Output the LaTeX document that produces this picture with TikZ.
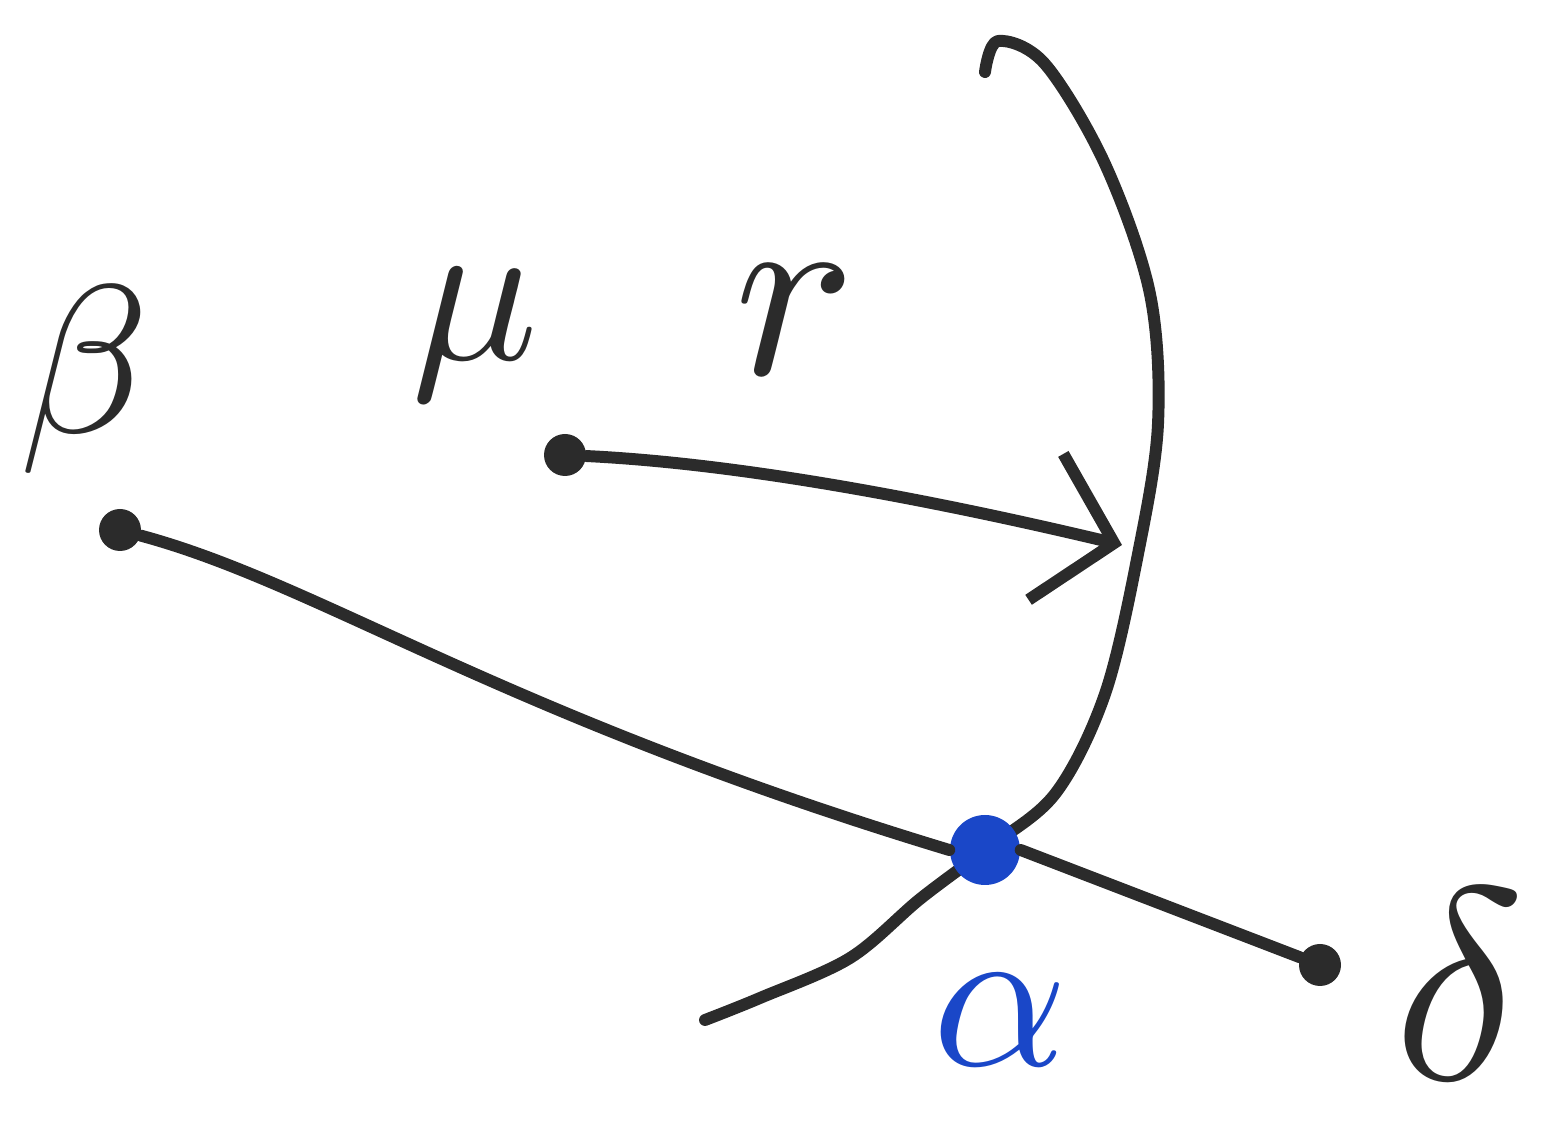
\documentclass[tikz,border=0pt]{standalone}
\usepackage{amsmath}
\usepackage{xcolor}
\definecolor{penInk}{HTML}{2B2B2B}
\definecolor{penBlue}{HTML}{1A47C8}
\usepackage{tikz}
\usetikzlibrary{arrows.meta}

\tikzset{
  pen/.style={penInk, line width=3.4pt, line cap=round, line join=round},
  dot/.style={circle, fill=penInk, inner sep=0pt, minimum size=0.42cm},
  lbl/.style={penInk, scale=6, inner sep=0pt}
}

\begin{document}
\begin{tikzpicture}[>=stealth]
  \useasboundingbox (0,0) rectangle (15.46,11.34);
  % the points
  \node[dot] (beta) at (1.20,6.04) {};
  \node[dot] (mu) at (5.65,6.79) {};
  \node[dot] (delta) at (13.20,1.69) {};
  \coordinate (rtip) at (11.22,5.89);
  % the circle round mu
  \draw[pen] plot[smooth, tension=0.55] coordinates {
    (9.85,10.62) (9.98,10.93) (10.45,10.70) (11.05,9.70) (11.50,8.40)
    (11.58,7.10) (11.38,5.80) (11.05,4.40) (10.55,3.40) (9.85,2.84)
    (9.20,2.35) (8.50,1.76) (7.60,1.36) (7.05,1.14)};
  % the line through beta and alpha
  \node[circle, fill=penBlue, inner sep=0pt, minimum size=0.7cm] (alpha) at (9.85,2.84) {};
  \draw[pen] (beta) .. controls (3.2,5.5) and (5.0,4.2) .. (alpha.west) (alpha.east) -- (delta);
  % the radius
  \draw[pen, -{Straight Barb[length=7mm, width=15mm, line width=3.4pt]}]
    (mu) .. controls (7.5,6.7) and (9.5,6.3) .. (rtip);
  % labels
  \node[lbl] (lbeta) at (0.85,7.54) {$\beta$};
  \node[lbl] (lmu) at (4.75,7.99) {$\mu$};
  \node[lbl, scale=1.2] (lr) at (7.95,8.14) {$r$};
  \node[lbl, penBlue] (lalpha) at (10.00,1.14) {$\alpha$};
  \node[lbl, scale=1.3] (ldelta) at (14.60,1.50) {$\delta$};
\end{tikzpicture}
\end{document}
